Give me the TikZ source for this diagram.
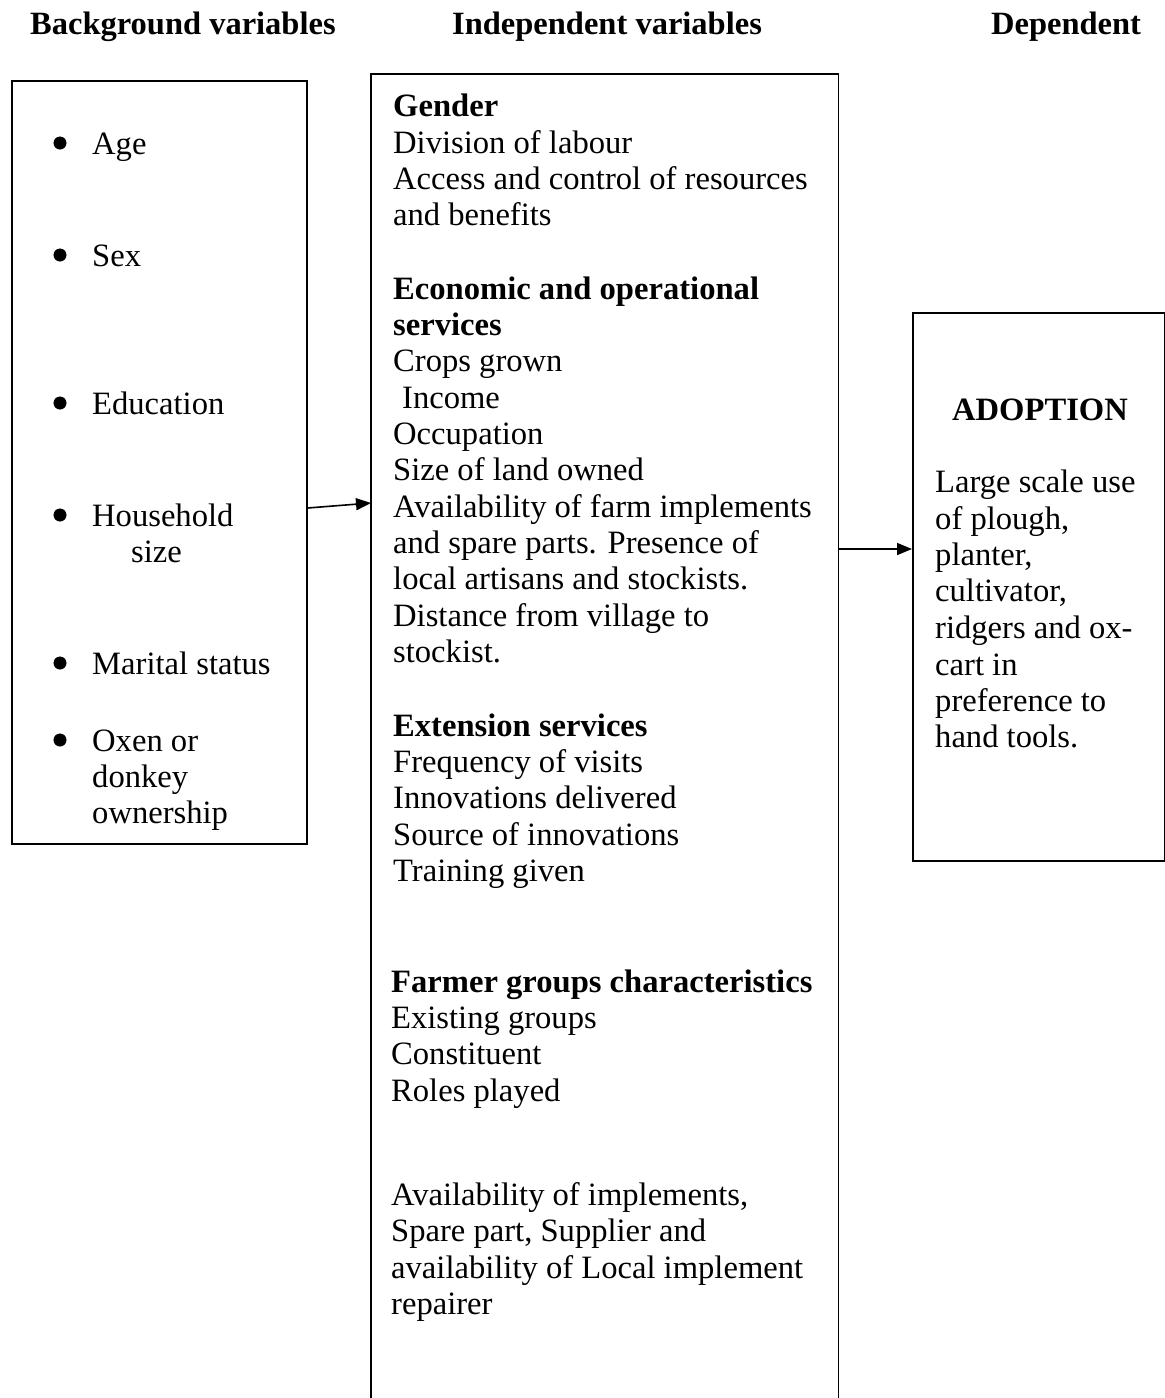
\documentclass[tikz,border=0pt]{standalone}
\usepackage{fontspec}
\setmainfont{Liberation Serif}
\usetikzlibrary{arrows.meta}
\newcommand{\bodyfont}{\fontsize{32.6}{36}\selectfont}
\newcommand{\headfont}{\fontsize{32.5}{36}\selectfont\bfseries}
\tikzset{
  txt/.style={anchor=base west, inner sep=0pt, font=\bodyfont},
  bold/.style={txt, font=\bodyfont\bfseries},
  head/.style={anchor=base west, inner sep=0pt, font=\headfont},
  frame/.style={draw, line width=1.6pt, inner sep=0pt, anchor=north west},
  dot/.style={circle, fill, draw, inner sep=0pt, minimum size=12.5pt},
  arr/.style={line width=1.6pt, -{Triangle[length=15pt,width=12pt]}},
}
\begin{document}
\begin{tikzpicture}[x=1pt,y=-1pt]
\useasboundingbox (0,0) rectangle (1165,1398);
% headers
\node[head] (h1) at (30,34) {Background variables};
\node[head] (h2) at (452,34) {Independent variables};
\node[head] (h3) at (991,34) {Dependent};
% boxes
\node[frame, minimum width=295pt, minimum height=763pt] (bg) at (11,80) {};
\node[inner sep=0pt, minimum width=467pt, minimum height=1324pt, anchor=north west] (ind) at (371,74) {};
\draw[line width=1.6pt] (ind.south west) -- (ind.north west) -- (ind.north east) -- (ind.south east);
\node[frame, minimum width=252pt, minimum height=548pt] (dep) at (912,312) {};
% left list
\foreach \n/\y/\t in {b1/154/Age, b2/266/Sex, b3/414/Education, b4/526/Household, b5/674/Marital status, b6/751/Oxen or}{
  \node[txt] (\n) at (92,\y) {\t};
  \node[dot] (\n d) at (60,\y-11) {};
}
\node[txt] (b4b) at (131,562) {size};
\node[txt] (b6b) at (92,787) {donkey};
\node[txt] (b6c) at (92,823) {ownership};
% middle text
\node[bold] (m1) at (393,116) {Gender};
\node[txt] (m2) at (393,153) {Division of labour};
\node[txt] (m3) at (393,189) {Access and control of resources};
\node[txt] (m4) at (393,225) {and benefits};
\node[bold] (m5) at (393,299) {Economic and operational};
\node[bold] (m6) at (393,335) {services};
\node[txt] (m7) at (393,371) {Crops grown};
\node[txt] (m8) at (402,408) {Income};
\node[txt] (m9) at (393,444) {Occupation};
\node[txt] (m10) at (393,480) {Size of land owned};
\node[txt] (m11) at (393,517) {Availability of farm implements};
\node[txt] (m12) at (393,553) {and spare parts. Presence of};
\node[txt] (m13) at (393,589) {local artisans and stockists.};
\node[txt] (m14) at (393,626) {Distance from village to};
\node[txt] (m15) at (393,662) {stockist.};
\node[bold] (m16) at (393,736) {Extension services};
\node[txt] (m17) at (393,772) {Frequency of visits};
\node[txt] (m18) at (393,808) {Innovations delivered};
\node[txt] (m19) at (393,845) {Source of innovations};
\node[txt] (m20) at (393,881) {Training given};
\node[bold] (m21) at (391,992) {Farmer groups characteristics};
\node[txt] (m22) at (391,1028) {Existing groups};
\node[txt] (m23) at (391,1064) {Constituent};
\node[txt] (m24) at (391,1101) {Roles played};
\node[txt] (m25) at (391,1205) {Availability of implements,};
\node[txt] (m26) at (391,1241) {Spare part, Supplier and};
\node[txt] (m27) at (391,1278) {availability of Local implement};
\node[txt] (m28) at (391,1314) {repairer};
% right text
\node[font=\bodyfont\bfseries, inner sep=0pt, anchor=base] (r0) at (1040,420) {ADOPTION};
\node[txt] (r1) at (935,492) {Large scale use};
\node[txt] (r2) at (935,529) {of plough,};
\node[txt] (r3) at (935,565) {planter,};
\node[txt] (r4) at (935,601) {cultivator,};
\node[txt] (r5) at (935,638) {ridgers and ox-};
\node[txt] (r6) at (935,675) {cart in};
\node[txt] (r7) at (935,711) {preference to};
\node[txt] (r8) at (935,747) {hand tools.};
% arrows
\draw[arr] ([yshift=-428pt]bg.north east) -- ([yshift=-429pt]ind.north west);
\draw[arr] ([yshift=-475pt]ind.north east) -- ([yshift=-237pt]dep.north west);
\end{tikzpicture}
\end{document}
